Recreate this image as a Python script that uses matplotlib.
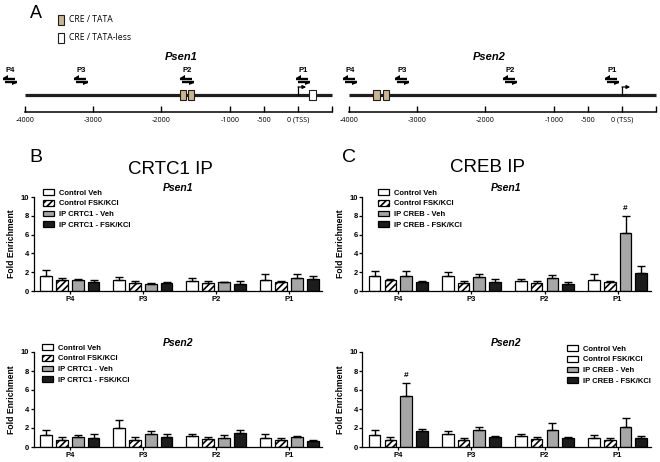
import numpy as np
import matplotlib
matplotlib.use("Agg")
import matplotlib.pyplot as plt
from matplotlib.patches import Patch, Rectangle

plt.rcParams['font.family'] = ['Liberation Sans', 'DejaVu Sans']
plt.rcParams['hatch.linewidth'] = 1.2

# --- Panel A: promoter schemes (bp relative to the TSS) ---
scale_ticks = [-4000, -3000, -2000, -1000, -500, 0, 500]
scale_labels = ['-4000', '-3000', '-2000', '-1000', '-500', '0 (TSS)', '']
primer_names = ['P4', 'P3', 'P2', 'P1']
psen1_primers = [-4220, -3180, -1626, 75]
psen2_primers = [-3985, -3223, -1641, -147]
psen1_cre_tata = [-1685, -1568]
psen1_cre_tataless = [212]
psen2_cre_tata = [-3597, -3458]
psen2_cre_tataless = []

# --- Panels B/C: ChIP fold enrichment (rows = series, cols = P4..P1) ---
groups = ['P4', 'P3', 'P2', 'P1']
crtc1_series = ['Control Veh', 'Control FSK/KCl', 'IP CRTC1 - Veh', 'IP CRTC1 - FSK/KCl']
creb_series = ['Control Veh', 'Control FSK/KCl', 'IP CREB - Veh', 'IP CREB - FSK/KCl']

crtc1_psen1 = [[1.60, 1.20, 1.10, 1.20],
               [1.17, 0.89, 0.89, 0.96],
               [1.17, 0.71, 0.93, 1.42],
               [0.93, 0.89, 0.71, 1.28]]
crtc1_psen1_err = [[0.64, 0.33, 0.25, 0.65],
                   [0.18, 0.14, 0.18, 0.11],
                   [0.13, 0.18, 0.03, 0.38],
                   [0.27, 0.07, 0.32, 0.32]]

creb_psen1 = [[1.64, 1.60, 1.07, 1.20],
              [1.17, 0.89, 0.89, 0.96],
              [1.64, 1.53, 1.42, 6.12],
              [1.00, 0.93, 0.78, 1.89]]
creb_psen1_err = [[0.50, 0.40, 0.25, 0.65],
                  [0.13, 0.18, 0.18, 0.14],
                  [0.50, 0.27, 0.28, 1.88],
                  [0.07, 0.32, 0.15, 0.74]]

crtc1_psen2 = [[1.31, 2.05, 1.13, 0.95],
               [0.71, 0.78, 0.88, 0.74],
               [1.02, 1.41, 0.92, 1.06],
               [0.95, 1.02, 1.48, 0.60]]
crtc1_psen2_err = [[0.49, 0.78, 0.21, 0.39],
                   [0.35, 0.28, 0.22, 0.21],
                   [0.22, 0.29, 0.32, 0.07],
                   [0.39, 0.39, 0.29, 0.14]]

creb_psen2 = [[1.27, 1.34, 1.13, 0.99],
              [0.78, 0.78, 0.88, 0.78],
              [5.37, 1.84, 1.84, 2.12],
              [1.73, 1.02, 0.95, 0.95]]
creb_psen2_err = [[0.50, 0.32, 0.21, 0.32],
                  [0.24, 0.21, 0.22, 0.17],
                  [1.34, 0.28, 0.70, 0.98],
                  [0.21, 0.11, 0.07, 0.25]]

# significance marks (#): (series index, group index)
creb_psen1_marks = [(2, 3)]
creb_psen2_marks = [(2, 0)]

FILLS = ['white', 'white', '#a6a6a6', '#1c1c1c']
HATCHES = ['', '/////', '', '']
TAN = '#c9b590'
W, H = 660, 462


def fig_rect(x0, y0, x1, y1):
    """ pixel box (top-left origin) -> figure fraction rect """
    return [x0 / W, 1 - y1 / H, (x1 - x0) / W, (y1 - y0) / H]


def draw_scheme(fig, rect, xlim, primers, tata, tataless):
    ax = fig.add_axes(rect)
    ax.set_xlim(*xlim)
    ax.set_ylim(0, 62)
    # promoter line
    ax.plot([-4000, 500], [17, 17], color='#1e1e1e', lw=2.3, solid_capstyle='butt', zorder=1)
    for x in tata:
        ax.add_patch(Rectangle((x - 48, 12), 96, 10, fc=TAN, ec='#1e1e1e', lw=0.8, zorder=3))
    for x in tataless:
        ax.add_patch(Rectangle((x - 45, 12), 90, 10, fc='white', ec='#1e1e1e', lw=0.8, zorder=3))
    # TSS arrow
    ax.plot([0, 0], [17, 25], color='k', lw=0.9, zorder=2)
    ax.annotate('', xy=(120, 25), xytext=(0, 25),
                arrowprops=dict(arrowstyle='-|>', lw=0.9, color='k', mutation_scale=5,
                                shrinkA=0, shrinkB=0))
    # primer pairs
    for name, x in zip(primer_names, primers):
        ax.plot([x - 105, x + 75], [33.5, 33.5], color='k', lw=1.7, solid_capstyle='butt')
        ax.plot([x - 75, x + 105], [30.3, 30.3], color='k', lw=1.7, solid_capstyle='butt')
        ax.fill([x - 105, x - 25, x - 25], [34.5, 34.5, 37.0], color='k', lw=0)
        ax.fill([x + 105, x + 25, x + 25], [29.3, 29.3, 26.8], color='k', lw=0)
        ax.text(x, 41, name, ha='center', va='center', fontsize=5.5, fontweight='bold')
    for s in ['left', 'right', 'top']:
        ax.spines[s].set_visible(False)
    ax.spines['bottom'].set_bounds(-4000, 500)
    ax.spines['bottom'].set_linewidth(1.1)
    ax.set_yticks([])
    ax.set_xticks(scale_ticks)
    ax.set_xticklabels(scale_labels, fontsize=5.2, family=['Open Sans', 'DejaVu Sans'])
    ax.tick_params(axis='x', direction='in', length=4.5, width=1.0, pad=3.5)
    ax.patch.set_alpha(0)
    return ax


def draw_bars(fig, rect, means, errs, series, title, legend_box, legend_hatches, marks=()):
    ax = fig.add_axes(rect)
    x = np.arange(len(groups))
    step, width = 0.216, 0.16
    for i in range(len(series)):
        pos = x + (i - 1.5) * step
        ax.bar(pos, means[i], width, color=FILLS[i], edgecolor='k', hatch=HATCHES[i],
               lw=0.9, zorder=2)
        ax.errorbar(pos, means[i], yerr=[np.zeros(len(groups)), errs[i]], fmt='none',
                    ecolor='k', elinewidth=1.0, capsize=2.6, capthick=1.0, zorder=3)
    for i, j in marks:
        ax.annotate('#', xy=(j + (i - 1.5) * step, means[i][j] + errs[i][j]),
                    xytext=(0, 3), textcoords='offset points', ha='center', va='bottom',
                    fontsize=6, fontweight='bold')
    ax.set_xlim(-0.49, 3.45)
    ax.set_ylim(0, 10)
    ax.set_yticks(range(0, 11, 2))
    ax.set_xticks(x)
    ax.set_xticklabels(groups, fontsize=5.5, fontweight='bold')
    for lab in ax.get_yticklabels():
        lab.set_fontsize(5.5)
        lab.set_fontweight('bold')
    ax.tick_params(axis='y', length=2.5, width=0.9, pad=1)
    ax.tick_params(axis='x', length=1.8, width=0.9, pad=1.5)
    for s in ['right', 'top']:
        ax.spines[s].set_visible(False)
    for s in ['left', 'bottom']:
        ax.spines[s].set_linewidth(0.9)
    ax.set_ylabel('Fold Enrichment', fontsize=6.2, fontweight='bold', labelpad=3)
    ax.set_title(title, fontsize=7.5, fontweight='bold', style='italic', pad=4)
    handles = [Patch(facecolor=FILLS[i], edgecolor='k', hatch=legend_hatches[i], lw=0.9)
               for i in range(len(series))]
    ax.legend(handles, series, loc='upper left', frameon=False,
              bbox_to_anchor=(legend_box[0] / W, 1 - legend_box[1] / H),
              bbox_transform=fig.transFigure, borderpad=0, borderaxespad=0,
              prop={'weight': 'bold', 'size': 5.5},
              handlelength=1.4, handleheight=0.8, handletextpad=0.65, labelspacing=0.42)
    return ax


fig = plt.figure(figsize=(6.6, 4.62), dpi=100)

# overlay in pixel coordinates for panel letters and headings
ov = fig.add_axes([0, 0, 1, 1])
ov.set_xlim(0, W)
ov.set_ylim(H, 0)
ov.axis('off')

ov.text(36, 14, 'A', fontsize=13, ha='center', va='center')
ov.text(36, 157, 'B', fontsize=14, ha='center', va='center')
ov.text(349, 157, 'C', fontsize=14, ha='center', va='center')
ov.text(170, 169, 'CRTC1 IP', fontsize=13.5, ha='center', va='center')
ov.text(488, 168, 'CREB IP', fontsize=13.5, ha='center', va='center')

# panel A legend
ov.add_patch(Rectangle((58, 15), 6, 10, fc=TAN, ec='#1e1e1e', lw=0.8))
ov.add_patch(Rectangle((58, 33), 6, 10, fc='white', ec='#1e1e1e', lw=0.8))
ov.text(69, 20, 'CRE / TATA', fontsize=6.2, va='center', family=['Open Sans', 'DejaVu Sans'])
ov.text(69, 38, 'CRE / TATA-less', fontsize=6.2, va='center', family=['Open Sans', 'DejaVu Sans'])
ov.text(181, 57, 'Psen1', fontsize=8, fontweight='bold', style='italic', ha='center', va='center')
ov.text(489, 57, 'Psen2', fontsize=8, fontweight='bold', style='italic', ha='center', va='center')

draw_scheme(fig, fig_rect(0, 50, 335, 112), (-4366, 542),
            psen1_primers, psen1_cre_tata, psen1_cre_tataless)
draw_scheme(fig, fig_rect(335, 50, 660, 112), (-4205, 557),
            psen2_primers, psen2_cre_tata, psen2_cre_tataless)

draw_bars(fig, fig_rect(34, 197, 322, 291), crtc1_psen1, crtc1_psen1_err, crtc1_series,
          'Psen1', (43, 189), HATCHES)
draw_bars(fig, fig_rect(362.5, 197, 650.5, 291), creb_psen1, creb_psen1_err, creb_series,
          'Psen1', (378, 189), HATCHES, creb_psen1_marks)
draw_bars(fig, fig_rect(34, 352, 322, 447), crtc1_psen2, crtc1_psen2_err, crtc1_series,
          'Psen2', (42, 344), HATCHES)
# in the reference the second legend key of this panel is left without hatch
draw_bars(fig, fig_rect(362.5, 352, 650.5, 447), creb_psen2, creb_psen2_err, creb_series,
          'Psen2', (567, 345), ['', '', '', ''], creb_psen2_marks)

fig.savefig('out.png', dpi=100)
